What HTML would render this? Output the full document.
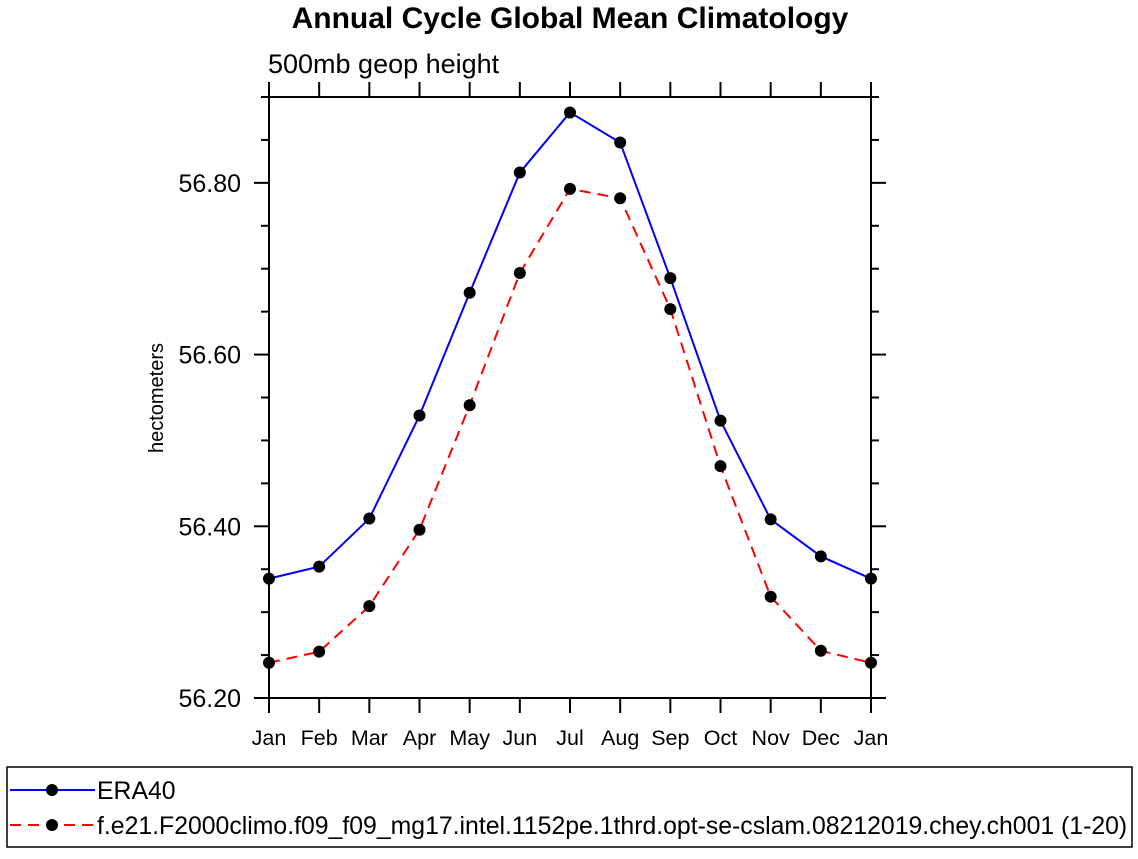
<!DOCTYPE html>
<html><head><meta charset="utf-8"><style>
body{margin:0;background:#fff;font-family:"Liberation Sans",sans-serif;}
svg text{font-family:"Liberation Sans",sans-serif;}
</style></head><body>
<svg width="1138" height="854" xmlns="http://www.w3.org/2000/svg">
<text x="570" y="28" text-anchor="middle" font-size="30" font-weight="bold">Annual Cycle Global Mean Climatology</text>
<text x="268" y="73" font-size="27">500mb geop height</text>
<text transform="translate(163,398) rotate(-90)" text-anchor="middle" font-size="20">hectometers</text>
<g id="axes"></g>
<g id="marks"></g>
<g>
<rect x="7" y="767" width="1125" height="80" fill="none" stroke="#000" stroke-width="1.5"/>
<g>
<line x1="10" y1="790" x2="95" y2="790" stroke="#00f" stroke-width="2"/>
<circle cx="52" cy="790" r="6" fill="#000"/>
<text x="97" y="799" font-size="24.8">ERA40</text></g>
<g>
<line x1="10" y1="825" x2="95" y2="825" stroke="#f00" stroke-width="2" stroke-dasharray="11,7"/>
<circle cx="52" cy="825" r="6" fill="#000"/>
<text x="97" y="834" font-size="24.8">f.e21.F2000climo.f09_f09_mg17.intel.1152pe.1thrd.opt-se-cslam.08212019.chey.ch001 (1-20)</text></g>
</g>
</svg>
<script>
const months=["Jan","Feb","Mar","Apr","May","Jun","Jul","Aug","Sep","Oct","Nov","Dec","Jan"];
const era40=[56.339,56.353,56.409,56.529,56.672,56.812,56.882,56.847,56.689,56.523,56.408,56.365,56.339];
const model=[56.241,56.254,56.307,56.396,56.541,56.695,56.793,56.782,56.653,56.470,56.318,56.255,56.241];
const yTicks=[56.2,56.4,56.6,56.8];
const yTickLabels=["56.20","56.40","56.60","56.80"];
const yMin=56.2,yMax=56.9;
const L=269,R=871,T=97,B=698;
const NS="http://www.w3.org/2000/svg";
const xs=i=>L+(R-L)*i/(months.length-1);
const ys=v=>B-(v-yMin)/(yMax-yMin)*(B-T);
function mk(tag,attrs,parent){const e=document.createElementNS(NS,tag);for(const k in attrs)e.setAttribute(k,attrs[k]);parent.appendChild(e);return e;}
const ax=document.getElementById('axes');
const frame=mk('rect',{x:L,y:T,width:R-L,height:B-T,fill:'none',stroke:'#000','stroke-width':2},ax);


months.forEach((m,i)=>{
  const x=xs(i);
  mk('line',{x1:x,y1:B,x2:x,y2:B+15,stroke:'#000','stroke-width':2},ax);
  mk('line',{x1:x,y1:T,x2:x,y2:T-15,stroke:'#000','stroke-width':2},ax);
  const t=mk('text',{x:x,y:745,'text-anchor':'middle','font-size':21.5},ax);
  t.textContent=m;
  
  
});
for(let v=yMin;v<=yMax+1e-6;v+=0.05){
  const y=ys(v);const major=yTicks.some(t=>Math.abs(t-v)<1e-6);const len=major?15:8;
  mk('line',{x1:L,y1:y,x2:L-len,y2:y,stroke:'#000','stroke-width':2},ax);
  mk('line',{x1:R,y1:y,x2:R+len,y2:y,stroke:'#000','stroke-width':2},ax);
}
yTicks.forEach((v,i)=>{
  const t=mk('text',{x:241,y:ys(v)+9,'text-anchor':'end','font-size':25},ax);
  t.textContent=yTickLabels[i];
  
  
});
const mg=document.getElementById('marks');
function series(vals,color,dash,name){
  const p=mk('polyline',{points:vals.map((v,i)=>xs(i)+','+ys(v)).join(' '),fill:'none',stroke:color,'stroke-width':2},mg);
  if(dash)p.setAttribute('stroke-dasharray',dash);
  
  
  vals.forEach((v,i)=>{
    const c=mk('circle',{cx:xs(i),cy:ys(v),r:6,fill:'#000'},mg);
    
    
  });
}
series(era40,'#00f',null,'era40');
series(model,'#f00','11,7','model');
</script>
</body></html>
